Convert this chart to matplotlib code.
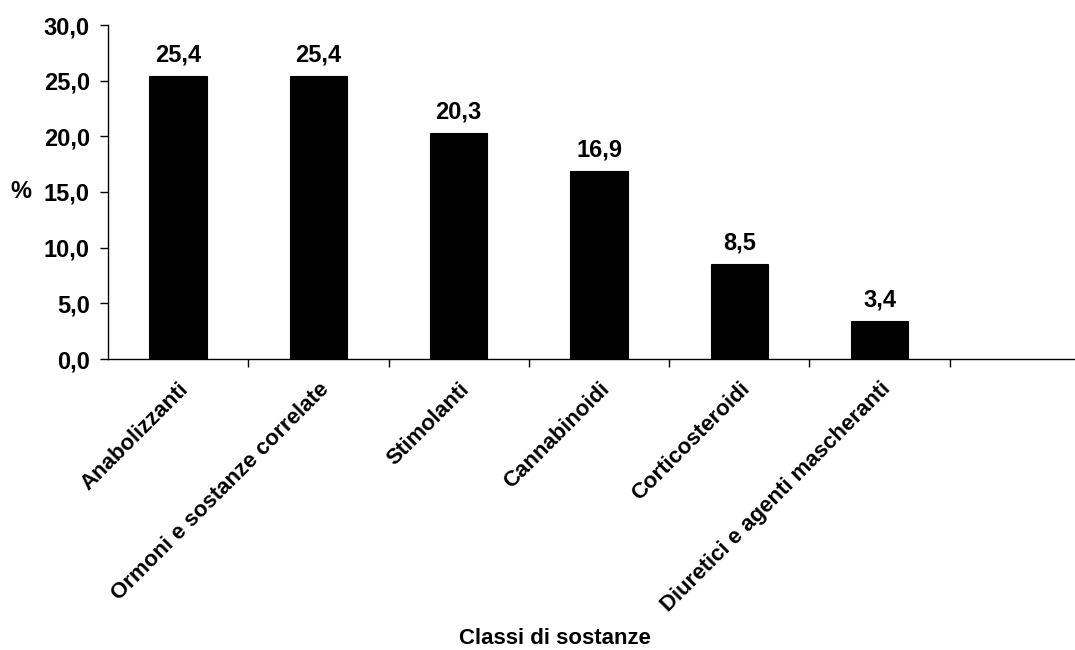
import numpy as np
import matplotlib.pyplot as plt

plt.rcParams['font.family'] = ['Liberation Sans', 'DejaVu Sans']
plt.rcParams['font.weight'] = 'bold'

categories = ['Anabolizzanti', 'Ormoni e sostanze correlate', 'Stimolanti',
              'Cannabinoidi', 'Corticosteroidi', 'Diuretici e agenti mascheranti']
values = [25.4, 25.4, 20.3, 16.9, 8.5, 3.4]
y_ticks = [0, 5, 10, 15, 20, 25, 30]


def fmt_it(v, dec=1):
    # comma decimal separator
    return f'{v:.{dec}f}'.replace('.', ',')


fig = plt.figure(figsize=(10.75, 6.5), dpi=100)
ax = fig.add_axes([108 / 1075, 1 - 359 / 650, 1 - 108 / 1075, (359 - 25) / 650])

x = np.arange(len(categories))
ax.bar(x, values, width=0.41, color='black', edgecolor='black', linewidth=0.8)

for xi, v in zip(x, values):
    ax.annotate(fmt_it(v), (xi, v), xytext=(0, 7), textcoords='offset points',
                ha='center', va='bottom', fontsize=17, fontweight='bold')

ax.set_xlim(-0.5, 6.5 - 15 / 140)
ax.set_ylim(0, 30)
ax.set_yticks(y_ticks)
ax.set_yticklabels([fmt_it(t) for t in y_ticks], fontsize=17, fontweight='bold')

# category labels at bar centres, ticks at slot boundaries
ax.set_xticks(x)
ax.set_xticklabels(categories, rotation=45, ha='right', rotation_mode='anchor',
                   fontsize=16, fontweight='bold')
ax.tick_params(axis='x', which='major', length=0, pad=14)
ax.set_xticks(np.arange(0.5, 6.5, 1.0), minor=True)
ax.tick_params(axis='x', which='minor', length=6, width=1, direction='out')
ax.tick_params(axis='y', length=6, width=1, direction='out', pad=7)

for side in ['top', 'right']:
    ax.spines[side].set_visible(False)
for side in ['left', 'bottom']:
    ax.spines[side].set_linewidth(1)

ax.set_ylabel('%', rotation=0, fontsize=17, fontweight='bold', va='center')
ax.yaxis.set_label_coords(-0.09, 0.5)
fig.text(555 / 1075, 1 - 644 / 650, 'Classi di sostanze', ha='center', va='baseline',
         fontsize=16, fontweight='bold')

fig.savefig('out.png', dpi=100)
